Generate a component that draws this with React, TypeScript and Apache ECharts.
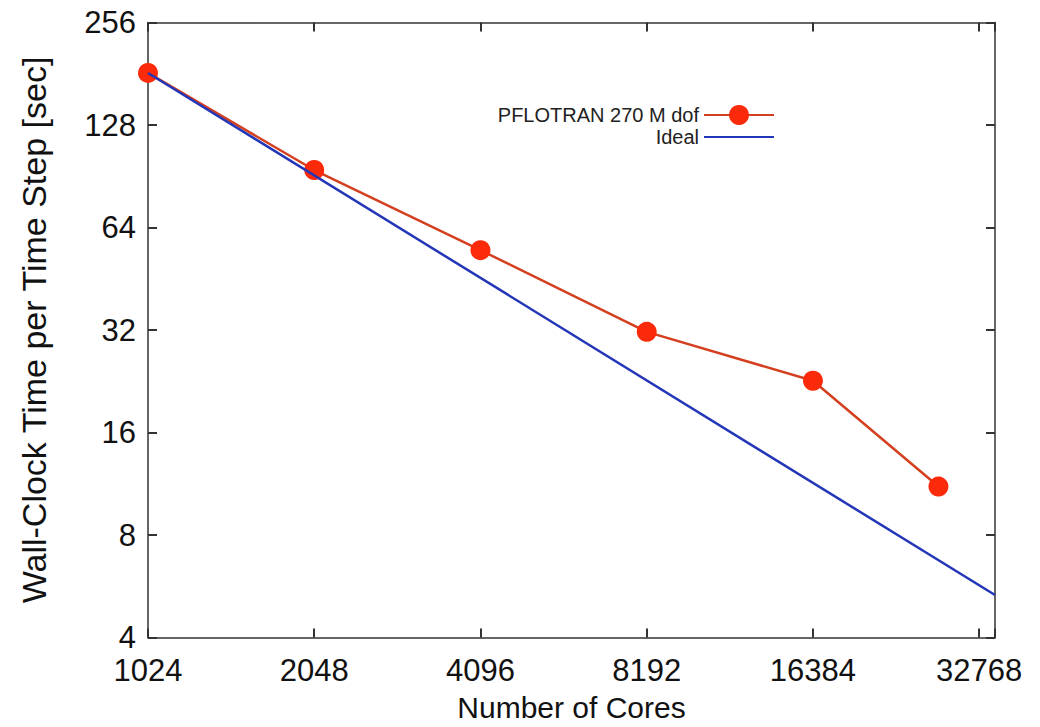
import React, { useEffect, useRef } from "react";
import * as echarts from "echarts";

const coreCounts = [1024, 2048, 4096, 8192, 16384, 27648];
const pflotranTimes = [182, 94.4, 54.9, 31.6, 22.7, 11.1];
const idealCores = [1024, 35000];
const idealTimes = [182, 5.33];
const xTickLabels = ["1024", "2048", "4096", "8192", "16384", "32768"];
const yTickLabels = ["4", "8", "16", "32", "64", "128", "256"];

const FONT = "'Liberation Sans', Arial, Helvetica, sans-serif";
const AXIS_COLOR = "#333";

export default function App() {
  const ref = useRef<HTMLDivElement>(null);
  useEffect(() => {
    if (!ref.current) return;
    const chart = echarts.init(ref.current, null, { renderer: "svg" });
    const xLabelFmt = (v: number) => {
      const s = String(Math.round(v));
      return xTickLabels.includes(s) ? s : "";
    };
    const yLabelFmt = (v: number) => {
      const s = String(Math.round(v));
      return yTickLabels.includes(s) ? s : "";
    };
    const baseAxis = {
      type: "log" as const,
      logBase: 2,
      interval: 1,
      axisLine: { show: true, lineStyle: { color: AXIS_COLOR, width: 1.5 } },
      axisTick: { show: true, inside: true, length: 9, lineStyle: { color: AXIS_COLOR, width: 2 } },
      splitLine: { show: false },
      minorTick: { show: false },
    };
    const xData = coreCounts.map((c, i) => [c, pflotranTimes[i]]);
    const idealData = idealCores.map((c, i) => [c, idealTimes[i]]);
    chart.setOption({
      animation: false,
      backgroundColor: "#fff",
      grid: {
        left: 148,
        top: 22.5,
        right: 45,
        bottom: 89.5,
        containLabel: false,
        outerBoundsMode: "none",
      },
      legend: {
        data: [
          { name: "PFLOTRAN 270 M dof" },
          { name: "Ideal", itemStyle: { opacity: 0 } },
        ],
        orient: "vertical",
        align: "right",
        right: 260,
        top: 100,
        itemWidth: 70,
        itemHeight: 25,
        itemGap: 2,
        textStyle: { fontFamily: FONT, fontSize: 20, color: "#222" },
      },
      xAxis: [
        {
          ...baseAxis,
          position: "bottom",
          min: 1024,
          max: 35000,
          name: "Number of Cores",
          nameLocation: "middle",
          nameGap: 55,
          nameTextStyle: { fontFamily: FONT, fontSize: 30, color: "#111", lineHeight: 30 },
          axisLabel: {
            show: true,
            formatter: xLabelFmt,
            fontFamily: FONT,
            fontSize: 31,
            color: "#111",
            margin: 17,
            showMaxLabel: true,
          },
        },
        {
          ...baseAxis,
          position: "top",
          min: 1024,
          max: 35000,
          axisLabel: { show: false },
        },
      ],
      yAxis: [
        {
          ...baseAxis,
          position: "left",
          min: 4,
          max: 256,
          name: "Wall-Clock Time per Time Step [sec]",
          nameLocation: "middle",
          nameGap: 97,
          nameTextStyle: { fontFamily: FONT, fontSize: 34, color: "#111" },
          axisLabel: {
            show: true,
            formatter: yLabelFmt,
            fontFamily: FONT,
            fontSize: 31,
            color: "#111",
            margin: 12,
          },
        },
        {
          ...baseAxis,
          position: "right",
          min: 4,
          max: 256,
          axisLabel: { show: false },
        },
      ],
      series: [
        {
          name: "PFLOTRAN 270 M dof",
          type: "line",
          data: xData,
          symbol: "circle",
          symbolSize: 20,
          itemStyle: { color: "#fa2a0a" },
          lineStyle: { color: "#d4401f", width: 2.5 },
          z: 2,
        },
        {
          name: "Ideal",
          type: "line",
          data: idealData,
          symbol: "none",
          itemStyle: { color: "#2436b8" },
          lineStyle: { color: "#2436b8", width: 2.5 },
          z: 3,
        },
      ],
    });
    return () => chart.dispose();
  }, []);
  return (
    <div
      ref={ref}
      style={{ position: "absolute", left: 0, top: 0, width: 1040, height: 727 }}
    />
  );
}
